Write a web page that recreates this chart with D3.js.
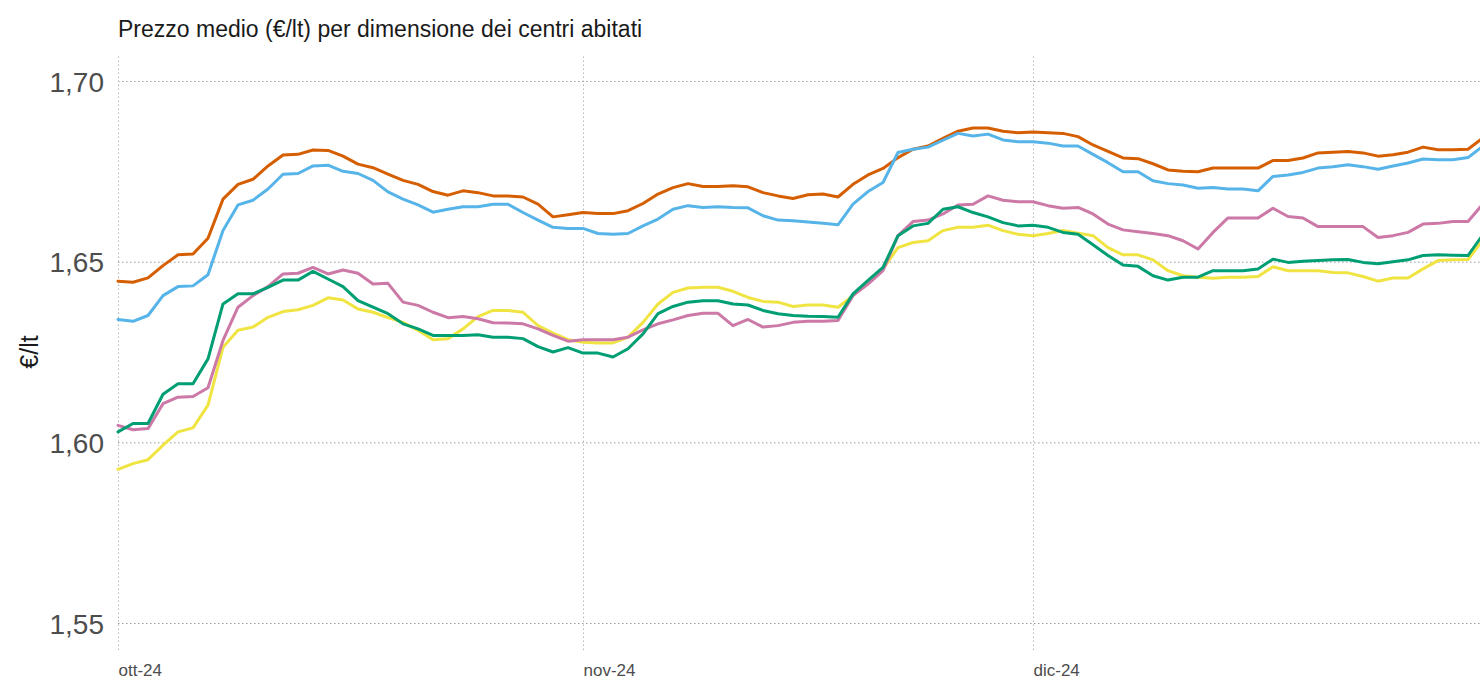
<!DOCTYPE html>
<html>
<head>
<meta charset="utf-8">
<script src="https://cdn.jsdelivr.net/npm/d3@7"></script>
<style>
  html, body { margin: 0; padding: 0; background: #fff; }
  svg { display: block; font-family: "Liberation Sans", Arial, sans-serif; }
</style>
</head>
<body>
<svg id="chart" width="1480" height="682"></svg>
<script>
// Prezzo medio giornaliero (€/lt), 1 ottobre – 31 dicembre 2024
const startDate = new Date(2024, 9, 1);
const endDate = new Date(2024, 11, 31);
const days = d3.timeDay.range(startDate, d3.timeDay.offset(endDate, 1));

const serieArancio = [
  1.6446,1.6443,1.6455,1.6489,1.6519,1.6521,1.6565,1.6673,1.6714,1.6728,
  1.6765,1.6795,1.6797,1.6809,1.6808,1.6792,1.6770,1.6760,1.6742,1.6725,
  1.6714,1.6694,1.6684,1.6696,1.6691,1.6682,1.6682,1.6679,1.6659,1.6624,
  1.6630,1.6636,1.6633,1.6633,1.6641,1.6661,1.6687,1.6705,1.6716,1.6708,
  1.6708,1.6710,1.6707,1.6691,1.6682,1.6675,1.6685,1.6687,1.6679,1.6714,
  1.6740,1.6758,1.6788,1.6811,1.6820,1.6841,1.6861,1.6870,1.6870,1.6861,
  1.6857,1.6859,1.6857,1.6855,1.6846,1.6823,1.6805,1.6787,1.6785,1.6771,
  1.6754,1.6750,1.6749,1.6759,1.6759,1.6759,1.6759,1.6780,1.6780,1.6787,
  1.6801,1.6803,1.6805,1.6801,1.6792,1.6796,1.6803,1.6817,1.6810,1.6810,
  1.6811,1.6843
];
const serieAzzurro = [
  1.6340,1.6335,1.6351,1.6406,1.6431,1.6433,1.6464,1.6586,1.6657,1.6670,
  1.6701,1.6742,1.6744,1.6765,1.6767,1.6750,1.6744,1.6725,1.6693,1.6673,
  1.6657,1.6637,1.6645,1.6652,1.6652,1.6659,1.6659,1.6636,1.6615,1.6595,
  1.6592,1.6592,1.6578,1.6576,1.6578,1.6599,1.6618,1.6645,1.6655,1.6650,
  1.6652,1.6650,1.6649,1.6627,1.6615,1.6613,1.6610,1.6606,1.6602,1.6659,
  1.6694,1.6719,1.6802,1.6811,1.6817,1.6836,1.6855,1.6848,1.6853,1.6837,
  1.6832,1.6832,1.6828,1.6820,1.6820,1.6797,1.6774,1.6749,1.6749,1.6724,
  1.6716,1.6712,1.6703,1.6705,1.6701,1.6701,1.6696,1.6736,1.6740,1.6747,
  1.6759,1.6763,1.6768,1.6763,1.6756,1.6765,1.6773,1.6784,1.6782,1.6782,
  1.6788,1.6820
];
const serieGiallo = [
  1.5925,1.5941,1.5952,1.5992,1.6029,1.6040,1.6103,1.6263,1.6310,1.6319,
  1.6346,1.6362,1.6367,1.6379,1.6400,1.6394,1.6369,1.6360,1.6345,1.6332,
  1.6310,1.6284,1.6287,1.6314,1.6348,1.6365,1.6365,1.6360,1.6323,1.6302,
  1.6284,1.6277,1.6275,1.6275,1.6291,1.6332,1.6383,1.6415,1.6427,1.6429,
  1.6429,1.6418,1.6401,1.6390,1.6388,1.6376,1.6380,1.6380,1.6374,1.6406,
  1.6443,1.6480,1.6539,1.6553,1.6558,1.6586,1.6595,1.6595,1.6601,1.6586,
  1.6576,1.6572,1.6578,1.6586,1.6579,1.6572,1.6539,1.6519,1.6519,1.6505,
  1.6475,1.6461,1.6457,1.6454,1.6457,1.6457,1.6459,1.6486,1.6475,1.6475,
  1.6475,1.6470,1.6469,1.6459,1.6446,1.6455,1.6455,1.6480,1.6503,1.6505,
  1.6506,1.6560
];
const serieRosa = [
  1.6047,1.6035,1.6038,1.6107,1.6125,1.6127,1.6151,1.6282,1.6374,1.6406,
  1.6431,1.6466,1.6468,1.6484,1.6466,1.6477,1.6468,1.6438,1.6440,1.6388,
  1.6379,1.6360,1.6345,1.6348,1.6342,1.6331,1.6330,1.6328,1.6314,1.6296,
  1.6280,1.6284,1.6284,1.6284,1.6291,1.6311,1.6328,1.6339,1.6351,1.6357,
  1.6357,1.6323,1.6340,1.6319,1.6323,1.6332,1.6335,1.6335,1.6337,1.6406,
  1.6438,1.6475,1.6572,1.6611,1.6615,1.6632,1.6657,1.6659,1.6682,1.6670,
  1.6666,1.6666,1.6655,1.6648,1.6650,1.6632,1.6604,1.6588,1.6583,1.6578,
  1.6572,1.6558,1.6535,1.6581,1.6621,1.6621,1.6621,1.6648,1.6625,1.6621,
  1.6597,1.6597,1.6597,1.6597,1.6567,1.6572,1.6581,1.6604,1.6606,1.6611,
  1.6611,1.6660
];
const serieVerde = [
  1.6029,1.6052,1.6052,1.6133,1.6162,1.6162,1.6231,1.6383,1.6411,1.6411,
  1.6429,1.6449,1.6449,1.6473,1.6452,1.6431,1.6392,1.6374,1.6356,1.6328,
  1.6314,1.6296,1.6296,1.6296,1.6298,1.6291,1.6291,1.6287,1.6265,1.6250,
  1.6262,1.6247,1.6247,1.6236,1.6259,1.6300,1.6356,1.6376,1.6388,1.6392,
  1.6392,1.6383,1.6380,1.6365,1.6356,1.6351,1.6349,1.6348,1.6346,1.6411,
  1.6448,1.6484,1.6572,1.6599,1.6606,1.6645,1.6652,1.6636,1.6624,1.6608,
  1.6599,1.6601,1.6595,1.6581,1.6576,1.6547,1.6517,1.6491,1.6487,1.6461,
  1.6449,1.6457,1.6457,1.6475,1.6475,1.6475,1.6480,1.6507,1.6498,1.6501,
  1.6503,1.6505,1.6506,1.6498,1.6494,1.6500,1.6505,1.6517,1.6519,1.6518,
  1.6517,1.6575
];

const yTicks = [1.55, 1.60, 1.65, 1.70];
const monthTicks = [new Date(2024, 9, 1), new Date(2024, 10, 1), new Date(2024, 11, 1)];
const monthLabels = ["ott-24", "nov-24", "dic-24"];
const titleText = "Prezzo medio (€/lt) per dimensione dei centri abitati";
const yLabelText = "€/lt";

const series = [
  { values: serieArancio, color: "#D55E00" },
  { values: serieAzzurro, color: "#56B4E9" },
  { values: serieGiallo,  color: "#F0E442" },
  { values: serieRosa,    color: "#CC79A7" },
  { values: serieVerde,   color: "#009E73" }
];

const svg = d3.select("#chart");
const panel = { left: 118, top: 55, bottom: 650, right: 1480 };

const x = d3.scaleTime()
  .domain([startDate, endDate])
  .range([118, 118 + 15 * (days.length - 1)]);
const y = d3.scaleLinear()
  .domain([1.55, 1.70])
  .range([623, 81]);

const fmt = v => d3.format(".2f")(v).replace(".", ",");

// horizontal grid with value labels
const yAxis = d3.axisLeft(y).tickValues(yTicks).tickSize(-(panel.right - panel.left)).tickFormat(fmt).tickPadding(14);
const gy = svg.append("g").attr("transform", `translate(${panel.left},0)`).call(yAxis);
gy.select(".domain").remove();
gy.selectAll(".tick line")
  .attr("stroke", "#9a9a9a").attr("stroke-width", 1).attr("stroke-dasharray", "1.5,2.5");
gy.selectAll(".tick text")
  .attr("fill", "#4d4d4d").style("font-size", "28px").attr("dy", "0.36em");

// vertical grid at month starts
const xAxis = d3.axisBottom(x).tickValues(monthTicks).tickSize(-(panel.bottom - panel.top))
  .tickFormat((d, i) => monthLabels[i]).tickPadding(14);
const gx = svg.append("g").attr("transform", `translate(0,${panel.bottom})`).call(xAxis);
gx.select(".domain").remove();
gx.selectAll(".tick line")
  .attr("stroke", "#b5b5b5").attr("stroke-width", 1).attr("stroke-dasharray", "1.5,2.5");
gx.selectAll(".tick text")
  .attr("fill", "#4d4d4d").style("font-size", "17px").attr("text-anchor", "start");

// price lines
const line = d3.line()
  .x((d, i) => x(days[i]))
  .y(d => y(d));

svg.append("g").selectAll("path")
  .data(series)
  .join("path")
  .attr("d", s => line(s.values))
  .attr("fill", "none")
  .attr("stroke", s => s.color)
  .attr("stroke-width", 3)
  .attr("stroke-linejoin", "round")
  .attr("stroke-linecap", "round");

// title
svg.append("text")
  .attr("x", 118).attr("y", 37)
  .attr("fill", "#1a1a1a")
  .style("font-size", "23px")
  .text(titleText);

// y axis label
svg.append("text")
  .attr("transform", `translate(38,352) rotate(-90)`)
  .attr("text-anchor", "middle")
  .attr("fill", "#1a1a1a")
  .style("font-size", "25px")
  .text(yLabelText);
</script>
</body>
</html>
